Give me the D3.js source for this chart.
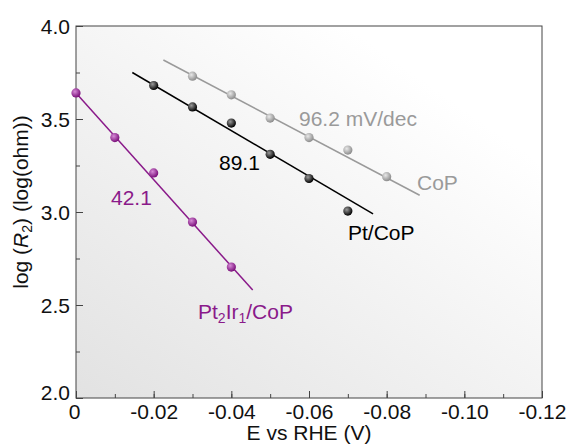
<!DOCTYPE html>
<html><head><meta charset="utf-8">
<script src="https://cdn.jsdelivr.net/npm/d3@7"></script>
<style>body{margin:0;background:#fff}svg{display:block;font-family:Arial,"Liberation Sans",sans-serif}</style>
</head><body>
<svg id="c" width="568" height="445"></svg>
<script>
const xTicks = [0, -0.02, -0.04, -0.06, -0.08, -0.10, -0.12];
const xTickLabels = ["0", "-0.02", "-0.04", "-0.06", "-0.08", "-0.10", "-0.12"];
const yTicks = [2.0, 2.5, 3.0, 3.5, 4.0];
const yTickLabels = ["2.0", "2.5", "3.0", "3.5", "4.0"];

const ptirX = [0, -0.01, -0.02, -0.03, -0.04];
const ptirY = [3.64, 3.40, 3.21, 2.946, 2.704];
const ptirFit = [[0.0, 3.64], [-0.0455, 2.58]];

const ptX = [-0.02, -0.03, -0.04, -0.05, -0.06, -0.07];
const ptY = [3.68, 3.565, 3.478, 3.31, 3.18, 3.005];
const ptFit = [[-0.0145, 3.75], [-0.0765, 2.99]];

const copX = [-0.03, -0.04, -0.05, -0.06, -0.07, -0.08];
const copY = [3.73, 3.63, 3.505, 3.40, 3.333, 3.19];
const copFit = [[-0.0225, 3.817], [-0.0885, 3.09]];

const FS = 21;
const svg = d3.select("#c");
const L = 76, R = 542, T = 26, B = 398;
const x = d3.scaleLinear().domain([0, -0.12]).range([L, R]);
const y = d3.scaleLinear().domain([2, 4]).range([B, T]);

const defs = svg.append("defs");
const bg = defs.append("linearGradient").attr("id", "bg")
  .attr("x1", "0").attr("y1", "1").attr("x2", "0.75").attr("y2", "0.15");
bg.append("stop").attr("offset", "0").attr("stop-color", "#e2e2e2");
bg.append("stop").attr("offset", "1").attr("stop-color", "#ffffff");

function ball(id, c1, c2) {
  const g = defs.append("radialGradient").attr("id", id)
    .attr("cx", "0.38").attr("cy", "0.35").attr("r", "0.65");
  g.append("stop").attr("offset", "0").attr("stop-color", c1);
  g.append("stop").attr("offset", "1").attr("stop-color", c2);
}
ball("bPur", "#d68ad6", "#7a0f7a");
ball("bBlk", "#9a9a9a", "#000000");
ball("bGry", "#e8e8e8", "#8c8c8c");

svg.append("rect").attr("x", L).attr("y", T).attr("width", R - L).attr("height", B - T)
  .attr("fill", "url(#bg)");

// axes
const ax = svg.append("g");
const xMinor = d3.range(0, 13).map(i => -i * 0.01);
const yMinor = d3.range(0, 9).map(i => 2 + i * 0.25);
ax.append("g").attr("transform", `translate(0,${B})`)
  .call(d3.axisBottom(x).tickValues(xMinor).tickSize(-4).tickFormat(""));
const xb2 = ax.append("g").attr("transform", `translate(0,${B})`)
  .call(d3.axisBottom(x).tickValues(xTicks).tickSize(-7).tickFormat((d, i) => xTickLabels[i]).tickPadding(6));
ax.append("g").attr("transform", `translate(${L},0)`)
  .call(d3.axisLeft(y).tickValues(yMinor).tickSize(-4).tickFormat(""));
const yl2 = ax.append("g").attr("transform", `translate(${L},0)`)
  .call(d3.axisLeft(y).tickValues(yTicks).tickSize(-7).tickFormat((d, i) => yTickLabels[i]).tickPadding(6));
ax.selectAll(".domain").remove();
ax.selectAll("line").attr("stroke", "#444").attr("stroke-width", 1);
ax.selectAll("text").attr("font-size", FS).attr("fill", "#111")
  .attr("font-family", "Arial, 'Liberation Sans', sans-serif");
yl2.selectAll("text").attr("dy", (d) => d === 2 ? "0.05em" : "0.35em");
xb2.selectAll("text").attr("y", 6).attr("dy", "0.71em").attr("dx", d => d === 0 ? -2 : 0);
svg.append("rect").attr("x", L).attr("y", T).attr("width", R - L).attr("height", B - T)
  .attr("fill", "none").attr("stroke", "#444").attr("stroke-width", 1);

svg.append("text").attr("x", 309).attr("y", 440).attr("text-anchor", "middle")
  .attr("font-size", FS).attr("fill", "#111").text("E vs RHE (V)");
const yt = svg.append("text").attr("transform", `translate(28,202) rotate(-90)`)
  .attr("text-anchor", "middle").attr("font-size", FS).attr("fill", "#111");
yt.append("tspan").text("log (");
yt.append("tspan").attr("font-style", "italic").text("R");
yt.append("tspan").attr("font-size", 14).attr("dy", 4).text("2");
yt.append("tspan").attr("dy", -4).text(") (log(ohm))");

// series
const line = d3.line().x(d => x(d[0])).y(d => y(d[1]));
const series = [
  {xs: copX, ys: copY, fit: copFit, col: "#9a9a9a", g: "bGry"},
  {xs: ptX, ys: ptY, fit: ptFit, col: "#000000", g: "bBlk"},
  {xs: ptirX, ys: ptirY, fit: ptirFit, col: "#8a1a8a", g: "bPur"}
];
series.forEach(s => {
  svg.append("path").attr("d", line(s.fit)).attr("stroke", s.col).attr("stroke-width", 1.5).attr("fill", "none");
  svg.selectAll(null).data(s.xs.map((v, i) => [v, s.ys[i]])).enter().append("circle")
    .attr("cx", d => x(d[0])).attr("cy", d => y(d[1])).attr("r", 4.6).attr("fill", `url(#${s.g})`);
});

// labels
function lab(tx, ty, txt, col) {
  return svg.append("text").attr("x", tx).attr("y", ty).attr("font-size", FS).attr("fill", col).text(txt);
}
lab(299, 126, "96.2 mV/dec", "#9a9a9a");
lab(417, 190, "CoP", "#9a9a9a");
lab(219, 170, "89.1", "#000");
lab(348, 240, "Pt/CoP", "#000");
lab(111, 205, "42.1", "#8a1a8a");
const pl = svg.append("text").attr("x", 198).attr("y", 319).attr("font-size", FS).attr("fill", "#8a1a8a");
pl.append("tspan").text("Pt");
pl.append("tspan").attr("font-size", 14).attr("dy", 4).text("2");
pl.append("tspan").attr("dy", -4).text("Ir");
pl.append("tspan").attr("font-size", 14).attr("dy", 4).text("1");
pl.append("tspan").attr("dy", -4).text("/CoP");
</script>
</body></html>
